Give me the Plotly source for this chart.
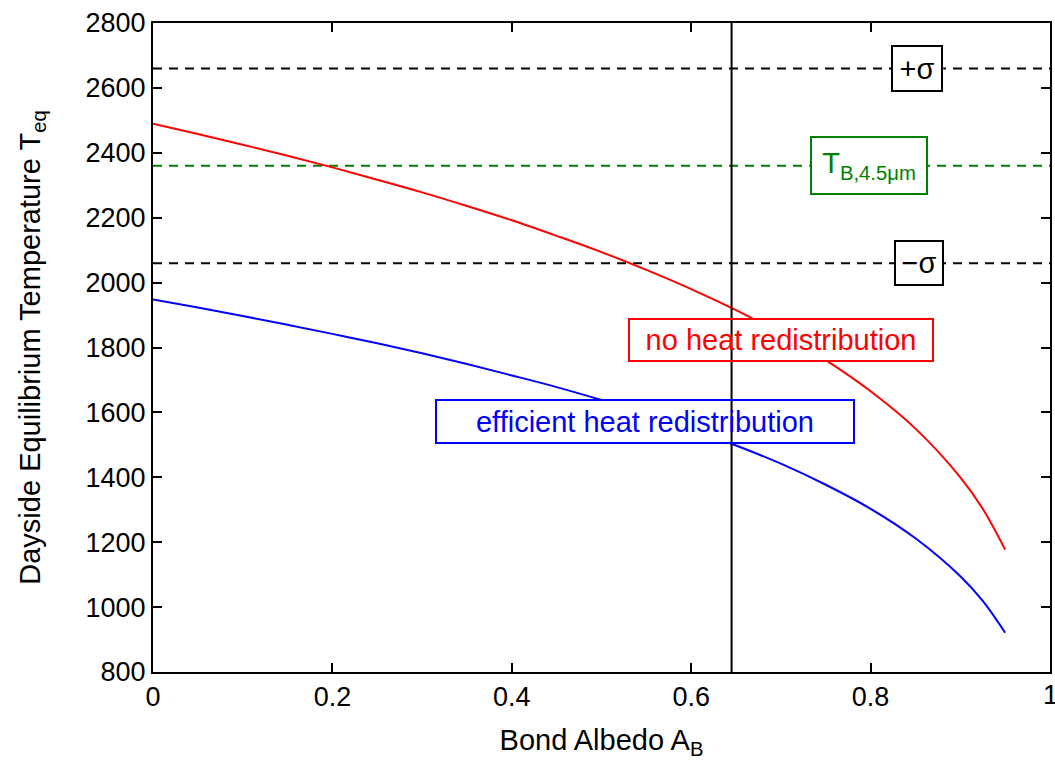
import plotly.graph_objects as go

# ---- data ----
albedo = [0.0, 0.05, 0.10, 0.15, 0.20, 0.25, 0.30, 0.35, 0.40, 0.45, 0.50,
          0.55, 0.60, 0.65, 0.70, 0.75, 0.80, 0.85, 0.90, 0.925, 0.95]
t_no_redist = [2490, 2458, 2425, 2391, 2355, 2317, 2278, 2236, 2192, 2144, 2094,
               2039, 1980, 1915, 1843, 1761, 1665, 1550, 1400, 1303, 1177]
t_efficient = [1948, 1923, 1897, 1870, 1842, 1813, 1782, 1749, 1714, 1678, 1638,
               1595, 1549, 1498, 1442, 1377, 1303, 1212, 1095, 1019, 921]

t_plus_sigma = 2660
t_brightness = 2360
t_minus_sigma = 2060
albedo_marker = 0.645

x_range = [0, 1]
y_range = [800, 2800]
x_ticks = [0, 0.2, 0.4, 0.6, 0.8, 1]
x_ticklabels = ["0", "0.2", "0.4", "0.6", "0.8", "1"]
y_ticks = [800, 1000, 1200, 1400, 1600, 1800, 2000, 2200, 2400, 2600, 2800]

FONT = "Liberation Sans, Arial, Helvetica, sans-serif"
RED = "#ff0000"
BLUE = "#0000ff"
GREEN = "#008000"

fig = go.Figure()

# horizontal reference lines
for val, col in [(t_plus_sigma, "black"), (t_brightness, GREEN), (t_minus_sigma, "black")]:
    fig.add_trace(go.Scatter(x=x_range, y=[val, val], mode="lines",
                             line=dict(color=col, width=2, dash="9px,7px"),
                             showlegend=False, hoverinfo="skip"))

fig.add_trace(go.Scatter(x=albedo, y=t_no_redist, mode="lines",
                         line=dict(color=RED, width=2, shape="spline"),
                         showlegend=False))
fig.add_trace(go.Scatter(x=albedo, y=t_efficient, mode="lines",
                         line=dict(color=BLUE, width=2, shape="spline"),
                         showlegend=False))

# label boxes: (text, x, y, outer width px, outer height px, colour)
boxes = [
    ("no heat redistribution", 0.70, 1823, 306, 44, RED),
    ("efficient heat redistribution", 0.548, 1572, 420, 45, BLUE),
    ("T<sub>B,4.5μm</sub>", 0.798, t_brightness, 118, 59, GREEN),
    ("+σ", 0.852, t_plus_sigma, 52, 47, "black"),
    ("−σ", 0.854, t_minus_sigma, 50, 46, "black"),
]

shapes = []
annotations = []
BW = 2
for text, bx, by, w, h, col in boxes:
    shapes.append(dict(type="rect", xref="x", yref="y", layer="above",
                       xsizemode="pixel", ysizemode="pixel",
                       xanchor=bx, yanchor=by,
                       x0=-w / 2, x1=w / 2, y0=-h / 2, y1=h / 2,
                       fillcolor="white", line=dict(width=0)))
    annotations.append(dict(text=text, x=bx, y=by, xref="x", yref="y",
                            showarrow=False, xanchor="center", yanchor="middle",
                            width=w - 2 * BW, height=h - 2 * BW,
                            borderpad=0, borderwidth=BW, bordercolor=col,
                            bgcolor="rgba(0,0,0,0)",
                            font=dict(family=FONT, size=29, color=col)))

# the last x tick label ("1"), partly cut off by the right edge as in the reference
annotations.append(dict(text=x_ticklabels[-1], x=x_ticks[-1], y=0, xref="x", yref="paper",
                        showarrow=False, xanchor="center", yanchor="top", yshift=-6,
                        font=dict(family=FONT, size=27, color="black")))

# vertical marker line (drawn above the white box fills)
shapes.append(dict(type="line", xref="x", yref="y", layer="above",
                   x0=albedo_marker, x1=albedo_marker, y0=y_range[0], y1=y_range[1],
                   line=dict(color="black", width=2)))

fig.update_layout(
    width=1055, height=762,
    margin=dict(l=153, r=3, t=23, b=90),
    paper_bgcolor="white", plot_bgcolor="white",
    font=dict(family=FONT, size=27, color="black"),
    shapes=shapes, annotations=annotations,
    showlegend=False,
)

fig.update_xaxes(range=x_range, tickvals=x_ticks[:-1], ticktext=x_ticklabels[:-1],
                 showgrid=False, zeroline=False,
                 showline=True, linecolor="black", linewidth=2, mirror="allticks",
                 ticks="inside", ticklen=9, tickwidth=2, tickcolor="black",
                 tickfont=dict(size=27),
                 title=dict(text="Bond Albedo A<sub>B</sub>", font=dict(size=29), standoff=18))
fig.update_yaxes(range=y_range, tickvals=y_ticks,
                 showgrid=False, zeroline=False,
                 showline=True, linecolor="black", linewidth=2, mirror="allticks",
                 ticks="inside", ticklen=9, tickwidth=2, tickcolor="black",
                 tickfont=dict(size=27),
                 title=dict(text="Dayside Equilibrium Temperature T<sub>eq</sub>",
                            font=dict(size=29), standoff=36))

fig.write_html("out.html")
